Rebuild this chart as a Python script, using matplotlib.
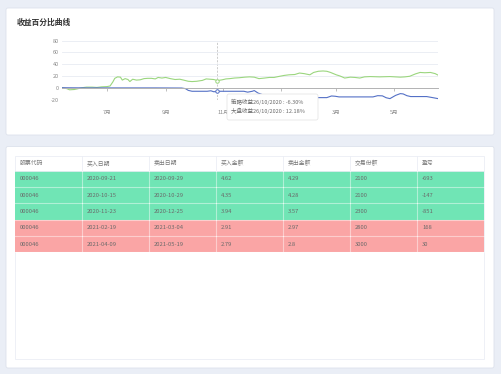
"""
收益百分比曲线 + 交易记录表 (仪表盘截图复刻)
"""

import matplotlib

matplotlib.use("Agg")
import matplotlib.dates as mdates
import matplotlib.pyplot as plt
import pandas as pd
from matplotlib.patches import FancyBboxPatch, Rectangle

plt.rcParams["font.family"] = ["Noto Sans CJK SC", "DejaVu Sans"]
plt.rcParams["axes.unicode_minus"] = False

W, H = 501, 374

# ---- 数据 ----
market_dates = [
    "2020-05-14", "2020-05-19", "2020-05-22", "2020-05-27", "2020-05-30", "2020-06-04",
    "2020-06-09", "2020-06-15", "2020-06-20", "2020-06-25", "2020-07-01", "2020-07-04",
    "2020-07-07", "2020-07-09", "2020-07-12", "2020-07-15", "2020-07-17", "2020-07-20",
    "2020-07-23", "2020-07-25", "2020-07-28", "2020-08-01", "2020-08-05", "2020-08-09",
    "2020-08-13", "2020-08-17", "2020-08-21", "2020-08-24", "2020-08-28", "2020-09-01",
    "2020-09-06", "2020-09-11", "2020-09-16", "2020-09-20", "2020-09-25", "2020-09-29",
    "2020-10-04", "2020-10-10", "2020-10-14", "2020-10-18", "2020-10-22", "2020-10-26",
    "2020-10-31", "2020-11-04", "2020-11-08", "2020-11-13", "2020-11-18", "2020-11-24",
    "2020-11-29", "2020-12-04", "2020-12-09", "2020-12-15", "2020-12-20", "2020-12-25",
    "2020-12-31", "2021-01-05", "2021-01-10", "2021-01-16", "2021-01-21", "2021-01-26",
    "2021-02-01", "2021-02-05", "2021-02-10", "2021-02-15", "2021-02-19", "2021-02-23",
    "2021-03-01", "2021-03-05", "2021-03-10", "2021-03-16", "2021-03-21", "2021-03-26",
    "2021-03-31", "2021-04-06", "2021-04-16", "2021-04-27", "2021-05-08", "2021-05-13",
    "2021-05-18", "2021-05-24", "2021-05-29", "2021-06-03", "2021-06-09", "2021-06-14",
    "2021-06-17",
]
market_pct = [
    0, -1.5, -3.5, -3, -2, 0,
    1, 1, 0.5, 1.5, 2, 3,
    10, 16, 18.5, 18, 13, 15.5,
    14, 10.5, 14.5, 13, 13.5, 15.5,
    16, 16, 15, 17.5, 16.5, 17.5,
    15.5, 14, 14.5, 13, 11, 10.5,
    11, 12.5, 15, 14.5, 14, 12.18,
    13.5, 15, 15.5, 16.5, 17, 18,
    18.5, 18, 15.5, 16.5, 17.5, 17.5,
    19.5, 21, 22, 22.5, 25, 24,
    22, 26, 28, 28.5, 28, 26,
    22, 20, 16.5, 18, 17.5, 16.5,
    18.5, 19, 18.5, 19, 18, 18.5,
    19.5, 23.5, 26, 25.5, 26, 24,
    21.5,
]

strategy_dates = [
    "2020-05-14", "2020-06-10", "2020-08-20", "2020-09-18", "2020-09-22", "2020-09-25",
    "2020-09-29", "2020-10-15", "2020-10-19", "2020-10-22", "2020-10-26", "2020-10-29",
    "2020-11-23", "2020-11-27", "2020-12-02", "2020-12-04", "2020-12-08", "2020-12-14",
    "2020-12-20", "2020-12-25", "2021-02-19", "2021-02-24", "2021-02-28", "2021-03-04",
    "2021-04-09", "2021-04-14", "2021-04-19", "2021-04-23", "2021-04-27", "2021-05-03",
    "2021-05-08", "2021-05-11", "2021-05-15", "2021-05-19", "2021-06-05", "2021-06-12",
    "2021-06-17",
]
strategy_pct = [
    0, -0.3, -0.3, -0.5, -1.5, -4.5,
    -6, -6, -5.2, -6.8, -6.3, -6,
    -6, -7.5, -6, -4.8, -9, -12.5,
    -15, -16.8, -16.8, -14, -14.5, -15.6,
    -15.6, -13.5, -13.8, -17, -18.5, -13,
    -10, -10.5, -13.5, -15, -15, -17,
    -18.5,
]

cursor_date = "2020-10-26"
cursor_strategy = -6.30
cursor_market = 12.18

table_columns = ["股票代码", "买入日期", "卖出日期", "买入金额", "卖出金额", "交易份额", "盈亏"]
stock_codes = ["000046", "000046", "000046", "000046", "000046"]
buy_dates = ["2020-09-21", "2020-10-15", "2020-11-23", "2021-02-19", "2021-04-09"]
sell_dates = ["2020-09-29", "2020-10-29", "2020-12-25", "2021-03-04", "2021-05-19"]
buy_prices = ["4.62", "4.35", "3.94", "2.91", "2.79"]
sell_prices = ["4.29", "4.28", "3.57", "2.97", "2.8"]
shares = [2100, 2100, 2300, 2800, 3000]
profits = [-693, -147, -851, 168, 30]

# ---- 样式 ----
PAGE_BG = "#eaeef6"
BLUE = "#5470c6"
GREEN = "#9bd67e"
LOSS_BG = "#70e5b5"
GAIN_BG = "#faa5a5"
TEXT = "#6a6a6a"


def fig_rect(x, y, w, h):
    """像素坐标(左上原点) -> figure 坐标."""
    return [x / W, 1 - (y + h) / H, w / W, h / H]


fig = plt.figure(figsize=(W / 100, H / 100), dpi=100, facecolor=PAGE_BG)

# 背景层: 卡片 + 表格
bg = fig.add_axes([0, 0, 1, 1], zorder=0)
bg.set_xlim(0, W)
bg.set_ylim(H, 0)
bg.axis("off")

for cx, cy, cw, ch in [(6, 8, 488, 127), (6, 146.5, 488, 221.5)]:
    bg.add_patch(FancyBboxPatch((cx, cy), cw, ch, boxstyle="round,pad=0,rounding_size=2",
                                facecolor="white", edgecolor="#dde2ec", linewidth=0.6))

bg.text(17, 22, "收益百分比曲线", fontsize=5.6, fontweight="bold", color="#333333",
        ha="left", va="center")

# 表格
tx0, tx1, ty0, ty1 = 15, 484, 155.7, 359
header_h, row_h = 15, 16.35
col_w = (tx1 - tx0) / len(table_columns)
bg.add_patch(Rectangle((tx0, ty0), tx1 - tx0, ty1 - ty0, facecolor="white",
                       edgecolor="#ebeef5", linewidth=0.6))
for j, name in enumerate(table_columns):
    bg.text(tx0 + j * col_w + 5, ty0 + header_h / 2, name, fontsize=4.2, color="#777777",
            ha="left", va="center")
    if j > 0:
        bg.plot([tx0 + j * col_w] * 2, [ty0, ty0 + header_h], color="#ebeef5", lw=0.6)
bg.plot([tx0, tx1], [ty0 + header_h] * 2, color="#ebeef5", lw=0.6)

rows = list(zip(stock_codes, buy_dates, sell_dates, buy_prices, sell_prices, shares, profits))
for i, row in enumerate(rows):
    y = ty0 + header_h + i * row_h
    color = LOSS_BG if row[-1] < 0 else GAIN_BG
    bg.add_patch(Rectangle((tx0, y), tx1 - tx0, row_h, facecolor=color, edgecolor="none"))
    bg.plot([tx0, tx1], [y + row_h] * 2, color="white", alpha=0.45, lw=0.8)
    for j, val in enumerate(row):
        bg.text(tx0 + j * col_w + 5, y + row_h / 2, str(val), fontsize=4.2, color=TEXT,
                ha="left", va="center")
        if j > 0:
            bg.plot([tx0 + j * col_w] * 2, [y, y + row_h], color="white", alpha=0.45, lw=0.8)

# 折线图
ax = fig.add_axes(fig_rect(62, 40.7, 376, 58.8), zorder=1)
ax.patch.set_alpha(0)
m_dates = pd.to_datetime(market_dates)
s_dates = pd.to_datetime(strategy_dates)
ax.plot(m_dates, market_pct, color=GREEN, lw=0.8)
ax.plot(s_dates, strategy_pct, color=BLUE, lw=0.8)

cd = pd.to_datetime(cursor_date)
ax.axvline(cd, color="#b8b8b8", lw=0.5, ls=(0, (3, 2)), zorder=0)
ax.plot([cd], [cursor_market], marker="o", ms=2.5, mfc="white", mec=GREEN, mew=0.7)
ax.plot([cd], [cursor_strategy], marker="o", ms=2.5, mfc="white", mec=BLUE, mew=0.7)

ax.set_ylim(-20, 80)
ax.set_yticks([-20, 0, 20, 40, 60, 80])
ax.set_xlim(m_dates[0], m_dates[-1])
ax.grid(axis="y", color="#e8ebf2", lw=0.6)
ax.set_axisbelow(True)

ax.xaxis.set_major_locator(mdates.MonthLocator(bymonth=[1, 3, 5, 7, 9, 11]))
ax.xaxis.set_major_formatter(plt.FuncFormatter(lambda v, _: f"{mdates.num2date(v).month}月"))

for side in ["top", "right", "left"]:
    ax.spines[side].set_visible(False)
ax.spines["bottom"].set_position(("data", 0))
ax.spines["bottom"].set_color("#b3b3b3")
ax.spines["bottom"].set_linewidth(0.7)
ax.tick_params(axis="x", length=2, width=0.6, color="#b3b3b3", pad=14,
               labelsize=4, labelcolor="#8a8a8a")
ax.tick_params(axis="y", length=0, pad=2.4, labelsize=4, labelcolor="#8a8a8a")

# 提示框
ov = fig.add_axes([0, 0, 1, 1], zorder=2)
ov.set_xlim(0, W)
ov.set_ylim(H, 0)
ov.axis("off")
ov.patch.set_alpha(0)
ov.add_patch(FancyBboxPatch((227, 94), 91, 26, boxstyle="round,pad=0,rounding_size=2",
                            facecolor="white", edgecolor="#e2e2e2", linewidth=0.5))
ov.text(231, 102.3, f"策略收益{cd:%d/%m/%Y} : {cursor_strategy:.2f}%", fontsize=4,
        color=TEXT, ha="left", va="center")
ov.text(231, 111, f"大盘收益{cd:%d/%m/%Y} : {cursor_market:.2f}%", fontsize=4,
        color=TEXT, ha="left", va="center")

fig.savefig("out.png", dpi=100, facecolor=PAGE_BG)
